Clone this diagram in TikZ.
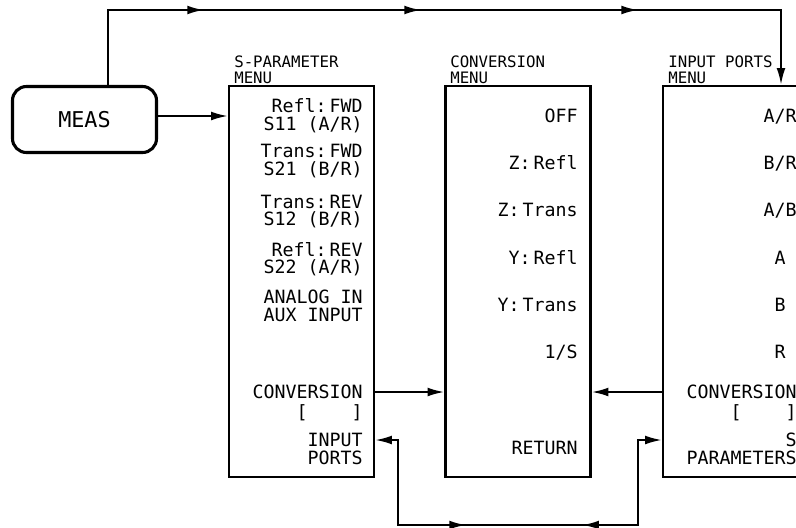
\documentclass[tikz,border=0pt]{standalone}
\usepackage{fontspec}
\newfontfamily\plotfont{DejaVu Sans Mono}
\usetikzlibrary{arrows.meta,decorations.markings,positioning}

\tikzset{
  menubox/.style={draw, line width=1.5pt, minimum width=3.625cm, minimum height=9.775cm, inner sep=0pt},
  keybox/.style={draw, line width=2.2pt, rounded corners=0.35cm, minimum width=3.6cm, minimum height=1.65cm,
    font=\plotfont\fontsize{15.5}{16}\selectfont},
  entry/.style={anchor=base east, inner sep=0pt, font=\plotfont\fontsize{13}{14}\selectfont},
  heading/.style={anchor=base west, inner sep=0pt, font=\plotfont\fontsize{11.2}{12}\selectfont},
  flow/.style={line width=1.5pt},
  tip/.style={flow, -{Latex[length=4.2mm,width=2.2mm]}},
}

\begin{document}
\begin{tikzpicture}[x=0.025cm, y=-0.025cm]
    \useasboundingbox (0,0) rectangle (796,527);
    \clip (0,0) rectangle (796,527);

    % Key and menus
    \node[keybox] (meas) at (84.5,119.5) {MEAS};
    \node[menubox] (spar) at (301.5,281.5) {};
    \node[menubox] (conv) at (518,281.5) {};
    \node[menubox] (inp) at (735.5,281.5) {};

    % Headings
    \node[heading] (spar-h1) at (234,67) {S-PARAMETER};
    \node[heading] (spar-h2) at (234,83) {MENU};
    \node[heading] (conv-h1) at (450,67) {CONVERSION};
    \node[heading] (conv-h2) at (450,83) {MENU};
    \node[heading] (inp-h1) at (668,67) {INPUT PORTS};
    \node[heading] (inp-h2) at (668,83) {MENU};

    % S-parameter menu
    \foreach \y/\t [count=\n] in {106/{Refl:\,FWD}, 124/{S11 (A/R)}, 151/{Trans:\,FWD}, 169/{S21 (B/R)},
        202/{Trans:\,REV}, 219/{S12 (B/R)}, 250/{Refl:\,REV}, 267/{S22 (A/R)}, 297/{ANALOG IN},
        315/{AUX INPUT}, 392/{CONVERSION}, 412/{{[}\phantom{XXXX}{]}}, 440/{INPUT}, 458/{PORTS}}
        \node[entry] (sp\n) at (363,\y+6.5) {\t};

    % Conversion menu
    \foreach \y/\t [count=\n] in {116/{OFF}, 163/{Z:\,Refl}, 210/{Z:\,Trans}, 258/{Y:\,Refl},
        305/{Y:\,Trans}, 352/{1/S}, 448/{RETURN}}
        \node[entry] (cv\n) at (578,\y+6.5) {\t};

    % Input ports menu
    \foreach \x/\y/\t [count=\n] in {797/116/{A/R}, 797/163/{B/R}, 797/210/{A/B}, 786/258/{A},
        786/305/{B}, 786/352/{R}, 797/392/{CONVERSION}, 797/412/{{[}\phantom{XXXX}{]}},
        797/440/{S}, 797/458/{PARAMETERS}}
        \node[entry] (ip\n) at (\x,\y+6.5) {\t};

    % Connections
    \coordinate (top1) at (108,10);
    \coordinate (top2) at (781,10);
    \coordinate (rowm) at (0,116);
    \coordinate (rowc) at (0,392);
    \coordinate (rowp) at (0,440);
    \coordinate (low1) at (398,525);
    \coordinate (low2) at (638,525);

    \draw[tip] (meas.east |- rowm) -- (spar.west |- rowm);
    \draw[tip, postaction={decorate}, decoration={markings,
        mark=at position 4.275cm with {\arrow{Latex[length=4.2mm,width=2.2mm]}},
        mark=at position 9.7cm with {\arrow{Latex[length=4.2mm,width=2.2mm]}},
        mark=at position 15.125cm with {\arrow{Latex[length=4.2mm,width=2.2mm]}}}]
        (meas.north -| top1) -- (top1) -- (top2) -- (inp.north -| top2);
    \draw[tip] (spar.east |- rowc) -- (conv.west |- rowc);
    \draw[tip] (inp.west |- rowc) -- (conv.east |- rowc);
    \draw[flow, {Latex[length=4.2mm,width=2.2mm]}-{Latex[length=4.2mm,width=2.2mm]}, postaction={decorate},
        decoration={markings,
        mark=at position 4.4cm with {\arrow{Latex[length=4.2mm,width=2.2mm]}},
        mark=at position 7.3cm with {\arrowreversed{Latex[length=4.2mm,width=2.2mm]}}}]
        (spar.east |- rowp) -| (low1) -- (low2) |- (inp.west |- rowp);
\end{tikzpicture}
\end{document}
